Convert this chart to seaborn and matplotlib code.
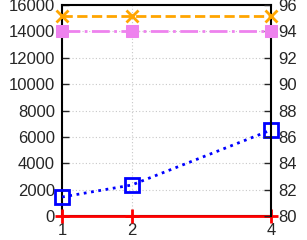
import matplotlib
matplotlib.use("Agg")
import matplotlib.pyplot as plt
import seaborn as sns
import pandas as pd

threads = [1, 2, 4]
blue_vals = [1440, 2350, 6520]      # left axis
red_vals = [0, 0, 0]                # left axis
orange_vals = [95.15, 95.15, 95.15]  # right axis
magenta_vals = [94.0, 94.0, 94.0]    # right axis

sns.set_style("white")
plt.rcParams["font.family"] = ["Liberation Sans", "DejaVu Sans"]
plt.rcParams["font.size"] = 12

fig = plt.figure(figsize=(3.07, 2.40), dpi=100)
ax = fig.add_axes([0.202, 0.10, 0.681, 0.879])
ax2 = ax.twinx()

df = pd.DataFrame({"x": threads, "blue": blue_vals, "red": red_vals,
                   "orange": orange_vals, "magenta": magenta_vals})

sns.lineplot(data=df, x="x", y="orange", ax=ax2, color="#ffa500", linestyle="--",
             linewidth=2, marker="x", markersize=9, markeredgewidth=2,
             markeredgecolor="#ffa500", clip_on=False, zorder=5)
sns.lineplot(data=df, x="x", y="magenta", ax=ax2, color="#ee82ee", linestyle="-.",
             linewidth=2, marker="s", markersize=8, markeredgecolor="#ee82ee",
             clip_on=False, zorder=5)
sns.lineplot(data=df, x="x", y="blue", ax=ax2 if False else ax, color="#0000ff",
             linestyle=":", linewidth=2, marker="s", markersize=10,
             markerfacecolor="none", markeredgecolor="#0000ff",
             markeredgewidth=2, clip_on=False, zorder=5)
sns.lineplot(data=df, x="x", y="red", ax=ax, color="#ff0000", linestyle="-",
             linewidth=2, marker="+", markersize=10, markeredgewidth=2,
             markeredgecolor="#ff0000", clip_on=False, zorder=6)

ax.set_xlim(1, 4)
ax.set_ylim(0, 16000)
ax2.set_ylim(80, 96)
ax.set_xticks(threads)
ax.set_yticks(range(0, 16001, 2000))
ax2.set_yticks(range(80, 97, 2))
for a in (ax, ax2):
    a.set_xlabel("")
    a.set_ylabel("")
    for s in a.spines.values():
        s.set_linewidth(1.5)
        s.set_color("black")
for side in ("top", "bottom", "left"):
    ax2.spines[side].set_visible(False)
ax.spines["right"].set_visible(False)
ax.tick_params(direction="in", length=5, width=1, labelsize=12, pad=5)
ax2.tick_params(direction="in", length=5, width=1, labelsize=12, pad=5)
ax.grid(True, color="#c8c8c8", linestyle=(0, (1, 2)), linewidth=0.8)
ax.set_axisbelow(True)
ax2.patch.set_visible(False)

fig.savefig("out.png", dpi=100)
